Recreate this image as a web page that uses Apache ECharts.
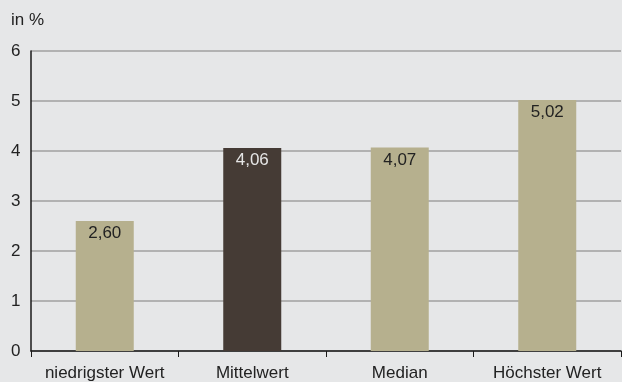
<!DOCTYPE html>
<html><head><meta charset="utf-8">
<script src="https://cdn.jsdelivr.net/npm/echarts@6/dist/echarts.min.js"></script>
<style>html,body{margin:0;padding:0;background:#e6e7e8}#c{width:622px;height:382px}</style>
</head><body><div id="c"></div>
<script>
const categories = ['niedrigster Wert', 'Mittelwert', 'Median', 'Höchster Wert'];
const values = [2.60, 4.06, 4.07, 5.02];
const yTicks = [0, 1, 2, 3, 4, 5, 6];
const unitLabel = 'in %';

const tan = '#b6b08e', dark = '#453b35';
const font = 'Liberation Sans, Arial, sans-serif';
const chart = echarts.init(document.getElementById('c'), null, {renderer: 'canvas'});
chart.setOption({
  backgroundColor: '#e6e7e8',
  animation: false,
  textStyle: {fontFamily: font},
  grid: {left: 31, right: 1, top: 51, bottom: 31, containLabel: false},
  graphic: [{type: 'text', left: 11, top: 12, style: {text: unitLabel, fontSize: 17, fill: '#222', fontFamily: font}}],
  xAxis: {
    type: 'category', data: categories,
    axisLine: {lineStyle: {color: '#1a1a1a', width: 1.5}},
    axisTick: {show: true, interval: 0, length: 6, lineStyle: {color: '#1a1a1a'}},
    axisLabel: {color: '#222', fontSize: 17, margin: 14, interval: 0}
  },
  yAxis: {
    type: 'value', min: yTicks[0], max: yTicks[yTicks.length - 1], interval: 1,
    axisLine: {show: true, lineStyle: {color: '#1a1a1a', width: 1.5}},
    axisTick: {show: false},
    axisLabel: {color: '#222', fontSize: 17, align: 'left', margin: 20},
    splitLine: {lineStyle: {color: '#a0a0a0', width: 1.5}}
  },
  series: [{
    type: 'bar', barWidth: 58,
    data: values.map((v, i) => ({
      value: v,
      itemStyle: {color: i === 1 ? dark : tan},
      label: {color: i === 1 ? '#e6e6e6' : '#222'}
    })),
    label: {
      show: true, position: 'insideTop', distance: 4, fontSize: 17,
      formatter: p => p.value.toFixed(2).replace('.', ',')
    }
  }]
});
</script></body></html>
